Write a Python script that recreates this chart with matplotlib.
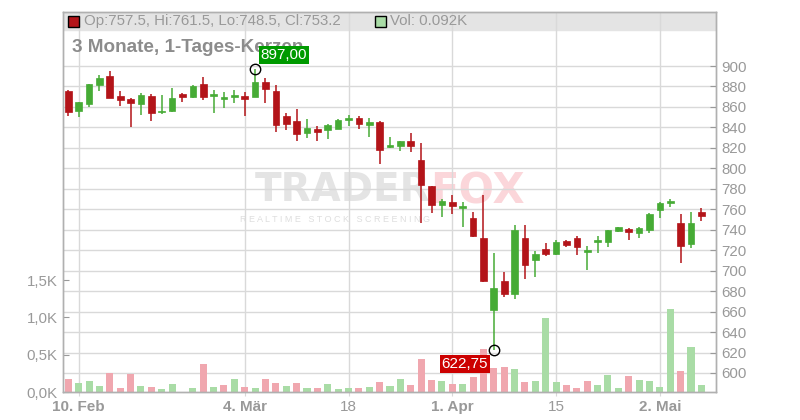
import numpy as np
import pandas as pd
import matplotlib.pyplot as plt
from matplotlib.patches import Rectangle

plt.rcParams['font.family'] = ['Liberation Sans', 'DejaVu Sans']

# trading days (Xetra holidays: Good Friday, Easter Monday, 1 May)
dates = pd.bdate_range('2025-02-07', '2025-05-08')
dates = dates[~dates.isin(pd.to_datetime(['2025-04-18', '2025-04-21', '2025-05-01']))]

opens = [875.6, 856.4, 863.2, 881.8, 890.2, 870.7, 867.8, 863.2, 870.7, 855.0,
         856.4, 873.0, 869.7, 882.4, 870.8, 867.6, 869.9, 870.8, 870.1, 884.6,
         875.8, 851.3, 846.4, 834.1, 838.6, 837.0, 838.6, 847.6, 849.4, 841.9,
         845.5, 821.2, 822.3, 826.3, 808.5, 782.4, 764.0, 767.5, 761.0, 751.0,
         732.4, 661.4, 689.4, 677.1, 732.4, 710.9, 721.5, 715.9, 729.0, 732.0,
         718.6, 728.4, 728.1, 739.2, 740.8, 737.2, 740.1, 759.7, 766.5, 746.6,
         726.4, 757.5]
highs = [876.5, 865.0, 882.5, 891.5, 895.1, 875.6, 868.7, 873.6, 873.0, 872.0,
         878.5, 874.0, 881.4, 889.3, 876.5, 874.6, 876.5, 874.3, 897.0, 888.0,
         881.6, 854.3, 858.2, 848.4, 841.6, 843.8, 848.1, 852.6, 850.7, 849.4,
         846.4, 830.8, 827.2, 834.1, 824.3, 782.8, 770.5, 774.4, 767.5, 756.9,
         773.8, 716.8, 698.2, 744.2, 744.2, 718.8, 727.4, 729.9, 730.0, 734.0,
         724.2, 734.0, 739.8, 742.7, 741.8, 742.7, 756.4, 767.2, 770.1, 755.4,
         757.4, 761.5]
lows = [851.5, 850.5, 860.3, 875.9, 869.0, 861.2, 840.7, 852.1, 846.6, 853.4,
        855.4, 864.8, 869.1, 866.8, 854.1, 859.3, 864.2, 851.5, 869.7, 864.1,
        835.7, 837.7, 826.9, 829.8, 826.9, 828.9, 838.0, 840.9, 838.6, 831.1,
        803.8, 819.4, 816.5, 816.2, 746.6, 756.4, 752.6, 754.9, 742.8, 733.0,
        689.0, 622.75, 674.1, 672.2, 691.7, 693.7, 714.8, 715.5, 723.5, 715.7,
        701.0, 717.7, 723.5, 738.2, 730.0, 732.3, 737.2, 751.5, 762.6, 707.9,
        722.5, 748.5]
closes = [855.4, 864.8, 882.4, 888.3, 869.1, 867.1, 864.2, 872.0, 854.4, 856.4,
          868.7, 870.0, 880.8, 870.0, 872.3, 869.3, 871.5, 868.2, 884.7, 877.7,
          841.9, 842.9, 833.1, 839.6, 836.0, 842.5, 847.4, 849.4, 843.8, 845.5,
          818.4, 822.9, 826.3, 821.4, 783.4, 764.0, 768.5, 763.0, 763.6, 733.7,
          689.8, 682.6, 677.1, 739.3, 705.1, 715.9, 716.0, 728.3, 725.5, 723.5,
          720.3, 729.6, 739.8, 742.7, 738.2, 741.8, 755.4, 766.2, 768.1, 724.5,
          746.6, 753.2]
volume_k = [0.174, 0.121, 0.147, 0.080, 0.255, 0.054, 0.241, 0.080, 0.067, 0.040,
            0.107, 0.0, 0.054, 0.375, 0.067, 0.094, 0.174, 0.067, 0.054, 0.174,
            0.121, 0.080, 0.121, 0.054, 0.054, 0.107, 0.040, 0.054, 0.054, 0.067,
            0.134, 0.080, 0.174, 0.094, 0.442, 0.161, 0.147, 0.107, 0.107, 0.201,
            0.576, 0.322, 0.335, 0.308, 0.134, 0.147, 0.992, 0.134, 0.094, 0.054,
            0.147, 0.094, 0.228, 0.054, 0.214, 0.161, 0.147, 0.067, 1.113, 0.282,
            0.603, 0.092]

tick_dates = ['2025-02-10', '2025-03-04', '2025-03-18', '2025-04-01', '2025-04-15', '2025-05-02']
tick_labels = ['10. Feb', '4. Mär', '18', '1. Apr', '15', '2. Mai']
tick_bold = [True, True, False, True, False, True]
price_ticks = np.arange(600, 901, 20)
vol_ticks = [0, 0.5, 1.0, 1.5]
vol_labels = ['0,0K', '0,5K', '1,0K', '1,5K']

x = np.arange(len(dates))
o, h, l, c = map(np.array, (opens, highs, lows, closes))
v = np.array(volume_k)
candle_col = np.where(c >= o, '#46ab35', '#b31419')
prev = np.r_[o[0], c[:-1]]
vol_col = np.where(c > prev, '#a9dca6', '#f0a7af')

GRID = '#d9d9d9'
TXT = '#999999'
W, H = 800, 420

fig = plt.figure(figsize=(8, 4.2), dpi=100)
ax = fig.add_axes([63 / W, 1 - 392 / H, (716 - 63) / W, 380 / H])
axp = ax.twinx()

ax.set_xlim(-0.51, 62.41)
ax.set_ylim(0, 380 / 74.6)
axp.set_ylim(581.4, 952.8)

# header band
ax.add_patch(Rectangle((0, 362 / 380), 1, 18 / 380, transform=ax.transAxes,
                       color='#e4e4e4', zorder=0.6))

# horizontal grid from the price scale, drawn under the volume bars
for p in price_ticks:
    ax.plot([0, 1], [p, p], transform=axp.get_yaxis_transform(), color=GRID, lw=1, zorder=0.8)

tick_pos = [dates.get_loc(pd.Timestamp(d)) for d in tick_dates]
ax.set_xticks(tick_pos)
ax.set_xticklabels(tick_labels)
for lab, b in zip(ax.get_xticklabels(), tick_bold):
    lab.set_fontweight('bold' if b else 'normal')
ax.grid(axis='x', color=GRID, lw=1)
ax.tick_params(axis='x', length=3, color=GRID, labelcolor=TXT, labelsize=11, pad=3)

# watermark
ax.text(430 / W, 1 - 190 / H, 'TRADER', transform=fig.transFigure, ha='right', va='center',
        fontsize=28, fontweight='bold', color='#e4e4e4', zorder=0.7, family='DejaVu Sans')
ax.text(430 / W, 1 - 192 / H, 'FOX', transform=fig.transFigure, ha='left', va='center',
        fontsize=30, fontweight='bold', color='#fbd6da', zorder=0.7, family='DejaVu Sans')
ax.text(335 / W, 1 - 219 / H, 'R E A L T I M E   S T O C K   S C R E E N I N G',
        transform=fig.transFigure, ha='center', va='center', fontsize=6.5,
        color='#dedede', zorder=0.7)

# volume
ax.bar(x, v, width=0.68, color=vol_col, zorder=2)
ax.set_yticks(vol_ticks)
ax.set_yticklabels(vol_labels)
ax.tick_params(axis='y', direction='in', length=4, color='#999999', labelcolor=TXT,
               labelsize=10.8, pad=4)

# candles
axp.vlines(x, l, h, colors=candle_col, lw=1.1, zorder=3)
axp.bar(x, c - o, bottom=o, width=0.64, color=candle_col, edgecolor=candle_col, lw=0.5, zorder=4)
axp.set_yticks(price_ticks)
axp.set_yticklabels([str(p) for p in price_ticks])
axp.tick_params(axis='y', direction='in', length=4, color='#999999', labelcolor=TXT,
                labelsize=10.8, pad=4)

for a in (ax, axp):
    for s in a.spines.values():
        s.set_color('#b0b0b0')
        s.set_linewidth(1)

# high / low markers
ih, il = int(np.argmax(h)), int(np.argmin(l))
for i, val, off, fc in [(ih, h[ih], (29, 14), '#009a00'), (il, l[il], (-29, -14), '#cc0000')]:
    axp.plot(i, val, 'o', mfc='none', mec='black', ms=7.5, mew=1, zorder=6)
    axp.annotate(f'{val:.2f}'.replace('.', ','), xy=(i, val), xytext=off,
                 textcoords='offset pixels', ha='center', va='center', color='white',
                 fontsize=11, zorder=7,
                 bbox=dict(boxstyle='square,pad=0.12', fc=fc, ec='none'))

# title and header texts
axp.text(72 / W, 1 - 48 / H, '3 Monate, 1-Tages-Kerzen', transform=fig.transFigure,
         ha='left', va='center', fontsize=13.6, fontweight='bold', color='#8c8c8c', zorder=5)
ax.add_patch(Rectangle((68 / W, 1 - 27 / H), 11 / W, 11 / H, transform=fig.transFigure,
                       fc='#b31419', ec='black', lw=1, zorder=3))
ax.add_patch(Rectangle((375 / W, 1 - 27 / H), 11 / W, 11 / H, transform=fig.transFigure,
                       fc='#a9dca6', ec='black', lw=1, zorder=3))
ax.text(84 / W, 1 - 21 / H, f'Op:{o[-1]}, Hi:{h[-1]}, Lo:{l[-1]}, Cl:{c[-1]}',
        transform=fig.transFigure, ha='left', va='center', fontsize=10.8, color=TXT, zorder=3)
ax.text(390 / W, 1 - 21 / H, f'Vol: {v[-1]:.3f}K', transform=fig.transFigure,
        ha='left', va='center', fontsize=10.8, color=TXT, zorder=3)

plt.savefig('out.png', dpi=100)
